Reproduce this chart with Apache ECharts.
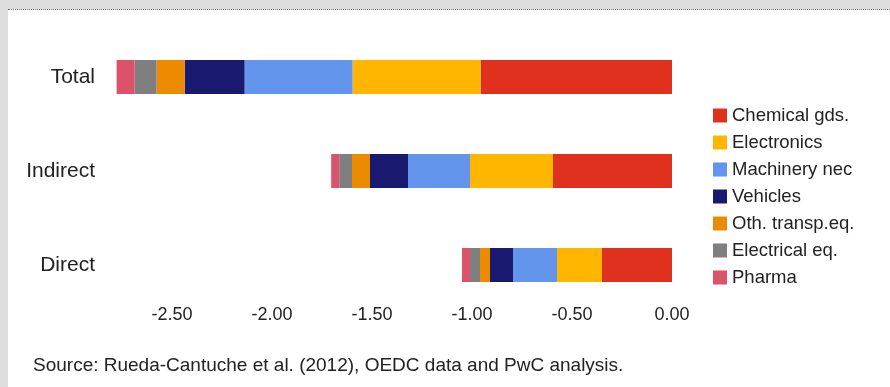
<!DOCTYPE html>
<html>
<head>
<meta charset="utf-8">
<script src="https://cdn.jsdelivr.net/npm/echarts@6/dist/echarts.min.js"></script>
<style>
  html, body { margin: 0; padding: 0; background: #dedede; }
  #panel { position: absolute; left: 8px; top: 9px; width: 882px; height: 378px; background: #ffffff; border-top: 1px dotted #666; box-sizing: border-box; }
  #chart { position: absolute; left: 0; top: 0; width: 890px; height: 387px; }
</style>
</head>
<body>
<div id="panel"></div>
<div id="chart"></div>
<script>
// Categories (bottom to top on the y axis)
const categories = ['Direct', 'Indirect', 'Total'];
const seriesNames = ['Chemical gds.', 'Electronics', 'Machinery nec', 'Vehicles', 'Oth. transp.eq.', 'Electrical eq.', 'Pharma'];
// Values per series, in category order [Direct, Indirect, Total]
const chemical   = [-0.35,  -0.595, -0.957];
const electronics= [-0.225, -0.415, -0.64];
const machinery  = [-0.22,  -0.31,  -0.54];
const vehicles   = [-0.115, -0.19,  -0.30];
const othTransp  = [-0.05,  -0.09,  -0.14];
const electrical = [-0.05,  -0.064, -0.11];
const pharma     = [-0.04,  -0.04,  -0.09];
const seriesValues = [chemical, electronics, machinery, vehicles, othTransp, electrical, pharma];
const colors = ['#E0301E', '#FFB600', '#6495ED', '#191970', '#EB8C00', '#7F7F7F', '#DB536A'];
const sourceText = 'Source: Rueda-Cantuche et al. (2012), OEDC data and PwC analysis.';

const FONT = '"Liberation Sans", Arial, Helvetica, sans-serif';
const chart = echarts.init(document.getElementById('chart'), null, { renderer: 'canvas' });
chart.setOption({
  backgroundColor: 'transparent',
  animation: false,
  textStyle: { fontFamily: FONT },
  title: {
    text: sourceText,
    left: 33, top: 356,
    padding: 0,
    textStyle: { fontFamily: FONT, fontSize: 19, fontWeight: 'normal', color: '#222' }
  },
  legend: {
    orient: 'vertical',
    left: 713, top: 106,
    itemWidth: 14, itemHeight: 14, itemGap: 8,
    padding: 0,
    icon: 'rect',
    data: seriesNames,
    textStyle: { fontFamily: FONT, fontSize: 18.5, lineHeight: 19, color: '#222', padding: [0, 0, 0, 0] }
  },
  grid: { left: 72, top: 30, width: 600, height: 282, containLabel: false },
  xAxis: {
    type: 'value',
    min: -3, max: 0, interval: 0.5,
    axisLine: { show: false }, axisTick: { show: false }, splitLine: { show: false },
    axisLabel: {
      margin: -6,
      fontFamily: FONT, fontSize: 18, color: '#222',
      formatter: v => (v <= -2.99 ? '' : v.toFixed(2))
    }
  },
  yAxis: {
    type: 'category',
    data: categories,
    axisLine: { show: false }, axisTick: { show: false }, splitLine: { show: false },
    axisLabel: { margin: -23, fontFamily: FONT, fontSize: 21, color: '#222' }
  },
  series: seriesNames.map((name, i) => ({
    name,
    type: 'bar',
    stack: 'total',
    barWidth: 34,
    itemStyle: { color: colors[i] },
    data: seriesValues[i]
  }))
});
</script>
</body>
</html>
